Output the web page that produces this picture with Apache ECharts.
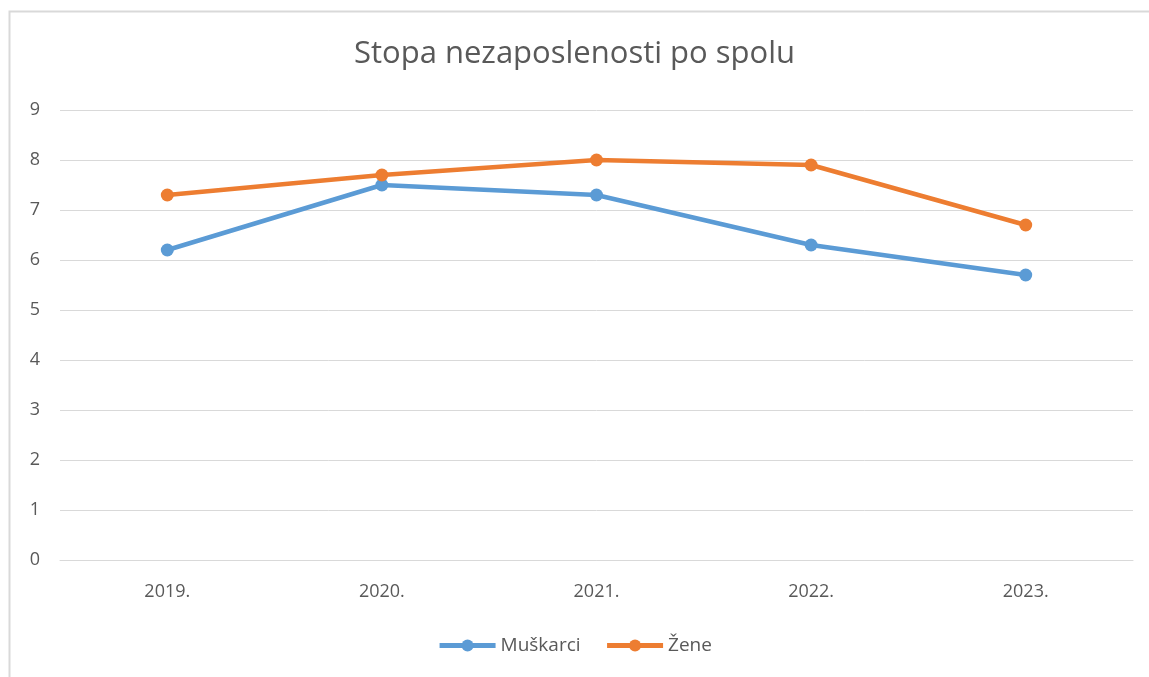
<!DOCTYPE html>
<html><head><meta charset="utf-8">
<script src="https://cdn.jsdelivr.net/npm/echarts@6/dist/echarts.min.js"></script>
<style>html,body{margin:0;padding:0;background:#fff}#c{width:1149px;height:677px}</style>
</head><body><div id="c"></div>
<script>
const categories = ['2019.', '2020.', '2021.', '2022.', '2023.'];
const muskarci = [6.2, 7.5, 7.3, 6.3, 5.7];
const zene = [7.3, 7.7, 8.0, 7.9, 6.7];
const yTicks = [0, 9, 1];
const font = 'Open Sans';
const chart = echarts.init(document.getElementById('c'));
chart.setOption({
  animation: false,
  textStyle: {fontFamily: font},
  graphic: [{type: 'rect', shape: {x: 9.5, y: 11.5, width: 1200, height: 700}, style: {fill: 'none', stroke: '#d9d9d9', lineWidth: 2}}],
  title: {text: 'Stopa nezaposlenosti po spolu', left: 'center', top: 34, textStyle: {fontSize: 31, fontWeight: 'normal', color: '#595959', fontFamily: font}},
  legend: {bottom: 17, left: 'center', itemWidth: 56, itemHeight: 15, itemGap: 24,
    lineStyle: {width: 5}, textStyle: {fontSize: 19, color: '#595959'}, data: ['Muškarci', 'Žene']},
  grid: {left: 60, right: 16, top: 110, bottom: 117, containLabel: false},
  xAxis: {type: 'category', data: categories, boundaryGap: true,
    axisLine: {lineStyle: {color: '#d9d9d9', width: 1}}, axisTick: {show: false},
    axisLabel: {fontSize: 18, color: '#595959', margin: 23}},
  yAxis: {type: 'value', min: yTicks[0], max: yTicks[1], interval: yTicks[2],
    axisLine: {show: false}, axisTick: {show: false},
    axisLabel: {fontSize: 18, color: '#595959', margin: 25, align: 'center'},
    splitLine: {lineStyle: {color: '#d9d9d9', width: 1}}},
  series: [
    {name: 'Muškarci', type: 'line', data: muskarci, symbol: 'circle', symbolSize: 13,
      lineStyle: {color: '#5B9BD5', width: 4.5}, itemStyle: {color: '#5B9BD5'}},
    {name: 'Žene', type: 'line', data: zene, symbol: 'circle', symbolSize: 13,
      lineStyle: {color: '#ED7D31', width: 4.5}, itemStyle: {color: '#ED7D31'}}
  ]
});
</script></body></html>
